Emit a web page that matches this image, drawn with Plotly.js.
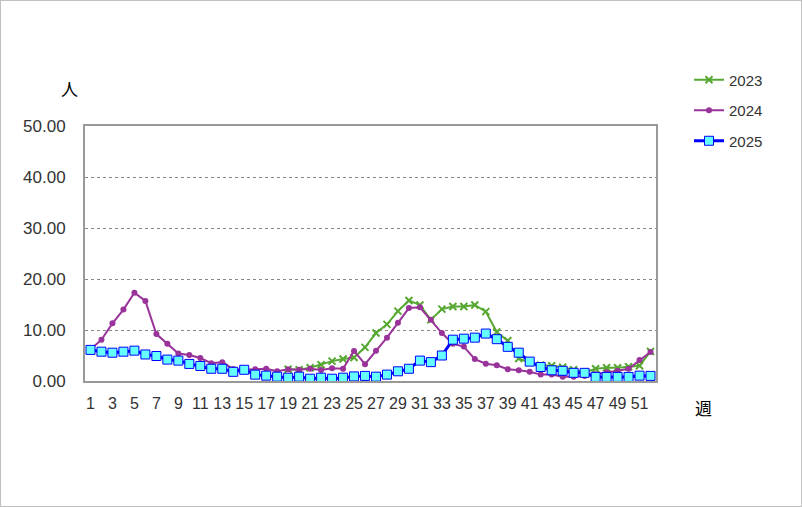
<!DOCTYPE html>
<html>
<head>
<meta charset="utf-8">
<script src="https://cdn.plot.ly/plotly-3.0.1.min.js"></script>
<style>
html,body{margin:0;padding:0;background:#fff;}
#wrap{width:800px;height:505px;border:1px solid #c0c0c0;}
#chart{width:800px;height:505px;}
</style>
</head>
<body>
<div id="wrap"><div id="chart"></div></div>
<script>
var weeks = [1,2,3,4,5,6,7,8,9,10,11,12,13,14,15,16,17,18,19,20,21,22,23,24,25,26,27,28,29,30,31,32,33,34,35,36,37,38,39,40,41,42,43,44,45,46,47,48,49,50,51,52];
var weekTicks = [1,3,5,7,9,11,13,15,17,19,21,23,25,27,29,31,33,35,37,39,41,43,45,47,49,51];
var seriesNames = ["2023","2024","2025"];
var v2023 = [null,null,null,null,null,null,null,null,null,null,null,null,null,null,null,null,null,null,
  2.3,2.2,2.6,3.2,3.9,4.3,4.6,6.6,9.4,11.1,13.7,15.8,14.9,12.0,14.1,14.6,14.6,14.9,13.6,9.6,7.9,4.4,
  3.6,3.1,3.0,2.7,2.2,1.7,2.4,2.6,2.6,2.8,3.0,5.8];
var v2024 = [6.2,8.1,11.3,14.0,17.3,15.7,9.2,7.3,5.4,5.1,4.5,3.5,3.7,2.35,2.2,2.3,2.4,1.9,2.3,2.2,
  2.4,2.15,2.5,2.4,5.9,3.3,5.95,8.5,11.4,14.3,14.45,12.0,9.4,7.3,6.75,4.3,3.4,3.1,2.3,2.1,
  1.8,1.25,1.25,0.85,0.85,1.0,1.3,1.7,2.0,2.4,4.1,5.7];
var v2025 = [6.1,5.75,5.55,5.75,5.95,5.2,4.9,4.2,4.0,3.35,2.95,2.4,2.4,1.8,2.2,1.25,1.05,0.85,0.65,0.85,
  0.45,0.65,0.45,0.65,0.9,1.0,0.85,1.25,1.9,2.4,4.0,3.7,5.0,8.1,8.3,8.5,9.3,8.2,6.7,5.55,
  3.8,2.75,2.1,2.0,1.6,1.6,0.8,0.8,0.8,0.8,1.05,1.0];
var yTicks = [0,10,20,30,40,50];

var traces = [
  {x: weeks, y: v2023, name: seriesNames[0], type: 'scatter', mode: 'lines+markers', legendgroup: 'a',
   line: {color: '#56a832', width: 2}, marker: {symbol: 'x-thin', size: 7, color: '#56a832', line: {color: '#56a832', width: 2}}},
  {x: weeks, y: v2024, name: seriesNames[1], type: 'scatter', mode: 'lines+markers', legendgroup: 'b',
   line: {color: '#993399', width: 2}, marker: {symbol: 'circle', size: 6, color: '#993399'}},
  {x: weeks, y: v2025, name: seriesNames[2], type: 'scatter', mode: 'lines+markers', legendgroup: 'c',
   line: {color: '#0000ff', width: 3}, marker: {symbol: 'square', size: 9, color: '#66ffff', line: {color: '#0000ff', width: 1}}}
];

var fam = 'Liberation Sans, Arial, sans-serif';
var layout = {
  width: 800, height: 505,
  margin: {l: 84, r: 145, t: 125, b: 125},
  paper_bgcolor: '#ffffff', plot_bgcolor: '#ffffff',
  font: {family: fam, size: 15, color: '#333333'},
  showlegend: true,
  legend: {x: (688-84)/571, xanchor: 'left', y: 1.245, yanchor: 'top', tracegroupgap: 8,
    font: {family: fam, size: 15, color: '#333333'}, bgcolor: 'rgba(0,0,0,0)'},
  xaxis: {range: [0.5, 52.5], tickmode: 'array', tickvals: weekTicks, ticktext: weekTicks.map(String),
    tickfont: {family: fam, size: 16, color: '#333333'},
    showgrid: false, zeroline: false, showline: true, mirror: true, linecolor: '#999999', linewidth: 2,
    ticks: '', ticklen: 0, ticklabelstandoff: 7, fixedrange: true},
  yaxis: {range: [0, 50], tickmode: 'array', tickvals: yTicks, ticktext: yTicks.map(function(v){return v.toFixed(2);}),
    tickfont: {family: fam, size: 17, color: '#333333'},
    showgrid: true, gridcolor: '#888888', griddash: 'dot', gridwidth: 1,
    zeroline: false, showline: true, mirror: true, linecolor: '#999999', linewidth: 2,
    ticks: '', ticklabelstandoff: 14, fixedrange: true},
  annotations: [
    {text: '人', xref: 'paper', yref: 'paper', x: (68.5-84)/571, y: (380-87)/255, xanchor: 'center', yanchor: 'middle', showarrow: false,
     font: {family: 'Noto Sans CJK JP', size: 17, color: '#000'}},
    {text: '週', xref: 'paper', yref: 'paper', x: (702.5-84)/571, y: (380-406)/255, xanchor: 'center', yanchor: 'middle', showarrow: false,
     font: {family: 'Noto Sans CJK JP', size: 17, color: '#000'}}
  ]
};
Plotly.newPlot('chart', traces, layout, {displayModeBar: false, staticPlot: true});
</script>
</body>
</html>
